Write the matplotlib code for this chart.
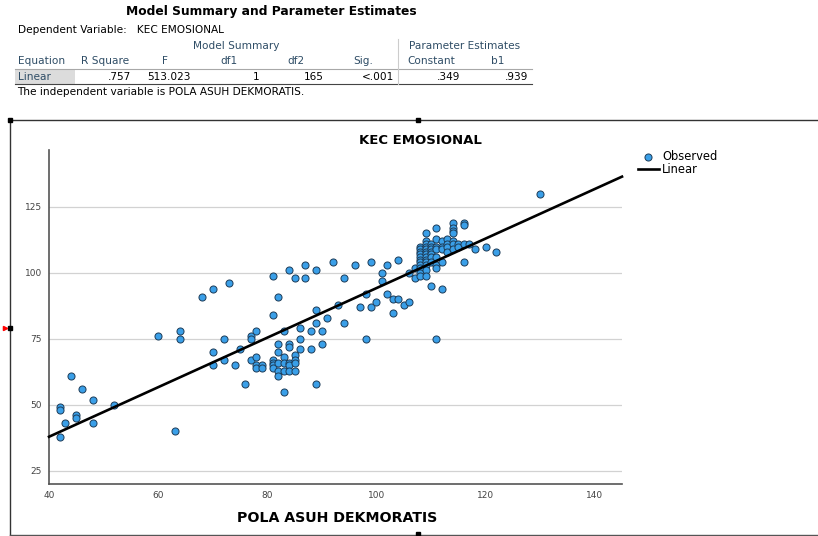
import numpy as np
import matplotlib.pyplot as plt
from matplotlib.lines import Line2D
from matplotlib.patches import Rectangle

# SPSS table values
col_headers = ['Equation', 'R Square', 'F', 'df1', 'df2', 'Sig.', 'Constant', 'b1']
row_values = ['Linear', '.757', '513.023', '1', '165', '<.001', '.349', '.939']
constant = 0.349
b1 = 0.939

# observed points (POLA ASUH DEKMORATIS, KEC EMOSIONAL)
pola_asuh = [42, 42, 44, 46, 48, 43, 45, 45, 48, 42, 52, 63,
             60, 64, 64, 68, 70, 70, 70, 72, 72, 73, 74, 75, 76, 77, 77, 77, 78, 78, 78, 78, 79, 79,
             81, 81, 81, 81, 81, 81, 82, 82, 82, 82, 82, 82, 83, 83, 83, 83, 83,
             84, 84, 84, 84, 84, 84, 85, 85, 85, 85, 85, 86, 86, 86, 87, 87, 88, 88,
             89, 89, 89, 89, 90, 90, 91, 92, 93, 94, 94, 96, 97, 98, 98, 99, 99, 100,
             101, 101, 102, 102, 103, 103, 104, 104, 105, 106, 106, 107, 107, 111, 130,
             108, 108, 108, 108, 108, 108, 108, 108, 108, 108, 108,
             109, 109, 109, 109, 109, 109, 109, 109, 109, 109, 109, 109, 109,
             110, 110, 110, 110, 110, 110, 110, 110,
             111, 111, 111, 111, 111, 111, 111,
             112, 112, 112, 112, 112,
             113, 113, 113, 113,
             114, 114, 114, 114, 114, 114, 114,
             115, 115, 116, 116, 116, 116, 117, 118, 120, 122]
kec_emosional = [49, 48, 61, 56, 52, 43, 46, 45, 43, 38, 50, 40,
                 76, 78, 75, 91, 94, 70, 65, 75, 67, 96, 65, 71, 58, 76, 75, 67, 78, 68, 65, 64, 65, 64,
                 99, 84, 67, 66, 65, 64, 91, 73, 70, 66, 63, 61, 78, 68, 66, 63, 55,
                 101, 73, 72, 66, 65, 63, 98, 69, 67, 66, 63, 79, 75, 71, 103, 98, 78, 71,
                 101, 86, 81, 58, 78, 73, 83, 104, 88, 98, 81, 103, 87, 92, 75, 104, 87, 89,
                 100, 97, 103, 92, 90, 85, 105, 90, 88, 100, 89, 102, 98, 75, 130,
                 110, 109, 108, 107, 106, 105, 104, 103, 102, 100, 99,
                 115, 112, 111, 110, 109, 108, 107, 106, 105, 104, 103, 101, 99,
                 111, 110, 109, 108, 107, 106, 104, 95,
                 117, 113, 110, 109, 106, 103, 102,
                 112, 110, 109, 104, 94,
                 113, 111, 110, 108,
                 119, 117, 116, 115, 112, 111, 109,
                 111, 110, 119, 118, 111, 104, 111, 109, 110, 108]

x_ticks = [40, 60, 80, 100, 120, 140]
y_ticks = [25, 50, 75, 100, 125]

W, H = 818, 536


def px(x, y):
    return x / W, 1 - y / H


hdr = '#2f4d66'
fs = 7.6
fig = plt.figure(figsize=(W / 100, H / 100), dpi=100)
plt.rcParams['font.family'] = 'DejaVu Sans'

# ---- table part ----
fig.text(*px(271, 12), 'Model Summary and Parameter Estimates', ha='center', va='center',
         fontsize=8.8, fontweight='bold')
fig.text(*px(18, 30), 'Dependent Variable:   KEC EMOSIONAL', ha='left', va='center', fontsize=fs)

edges = [15, 75, 135, 195, 263, 328, 398, 464, 532]
fig.text(*px((edges[1] + edges[6]) / 2, 46), 'Model Summary', ha='center', va='center',
         fontsize=fs, color=hdr)
fig.text(*px((edges[6] + edges[8]) / 2, 46), 'Parameter Estimates', ha='center', va='center',
         fontsize=fs, color=hdr)

fig.add_artist(Rectangle(px(edges[0], 84), (edges[1] - edges[0]) / W, 15 / H,
                         transform=fig.transFigure, facecolor='#dcdcdc', edgecolor='none'))
for i, (h, v) in enumerate(zip(col_headers, row_values)):
    if i == 0:
        fig.text(*px(edges[0] + 3, 61), h, ha='left', va='center', fontsize=fs, color=hdr)
        fig.text(*px(edges[0] + 3, 76.5), v, ha='left', va='center', fontsize=fs, color=hdr)
    else:
        fig.text(*px((edges[i] + edges[i + 1]) / 2, 61), h, ha='center', va='center',
                 fontsize=fs, color=hdr)
        fig.text(*px(edges[i + 1] - 4, 76.5), v, ha='right', va='center', fontsize=fs)

for yy, c in [(69, '#a8a8a8'), (84, '#444444')]:
    fig.add_artist(Line2D([edges[0] / W, edges[-1] / W], [1 - yy / H] * 2, color=c, lw=0.8,
                          transform=fig.transFigure))
fig.add_artist(Line2D([edges[6] / W] * 2, [1 - 39 / H, 1 - 84 / H], color='#cccccc', lw=0.8,
                      transform=fig.transFigure))
fig.text(*px(17, 92), 'The independent variable is POLA ASUH DEKMORATIS.', ha='left', va='center',
         fontsize=fs)

# ---- chart frame ----
fig.add_artist(Line2D([10 / W, 10 / W], [1 - 120 / H, 1 - 536 / H], color='#333333', lw=1,
                      transform=fig.transFigure))
fig.add_artist(Line2D([10 / W, 1], [1 - 120 / H] * 2, color='#333333', lw=1, transform=fig.transFigure))
fig.add_artist(Line2D([10 / W, 1], [1 - 534.5 / H] * 2, color='#555555', lw=1, transform=fig.transFigure))
fig.add_artist(Line2D([10 / W, 418 / W, 10 / W, 418 / W], [1 - 120 / H, 1 - 120 / H, 1 - 328 / H, 1 - 534 / H],
                      marker='s', ms=3, color='black', linestyle='none', transform=fig.transFigure))
fig.add_artist(Line2D([5 / W], [1 - 328 / H], marker='>', ms=3, color='red', linestyle='none',
                      transform=fig.transFigure))

# ---- scatter ----
ax = fig.add_axes([49 / W, 1 - 484 / H, (622 - 49) / W, (484 - 150) / H])
ax.set_xlim(40, 145)
ax.set_ylim(20, 146.6)
ax.set_xticks(x_ticks)
ax.set_yticks(y_ticks)
ax.grid(axis='y', color='#d2d2d2', lw=0.9)
ax.set_axisbelow(True)
for s in ['top', 'right']:
    ax.spines[s].set_visible(False)
for s in ['left', 'bottom']:
    ax.spines[s].set_color('#555555')
    ax.spines[s].set_linewidth(1.2)
ax.tick_params(length=0, labelsize=6.5, labelcolor='#444444')
ax.tick_params(axis='y', pad=5)
ax.tick_params(axis='x', pad=5)

ax.scatter(pola_asuh, kec_emosional, s=26, c='#3a9fe8', edgecolors='#1d3c58', linewidths=0.7,
           label='Observed', zorder=3)
line_x = np.array(ax.get_xlim())
ax.plot(line_x, constant + b1 * line_x, color='black', lw=1.9, label='Linear', zorder=4,
        clip_on=False)

fig.text(*px(420, 140), 'KEC EMOSIONAL', ha='center', va='center', fontsize=9.5, fontweight='bold')
fig.text(*px(337, 518), 'POLA ASUH DEKMORATIS', ha='center', va='center', fontsize=10.2,
         fontweight='bold')

ax.legend(loc='upper left', bbox_to_anchor=px(638, 150), bbox_transform=fig.transFigure,
          frameon=False, fontsize=8.3, handlelength=1.8, handletextpad=0.3, labelspacing=0.0,
          borderpad=0, borderaxespad=0)

fig.savefig('out.png', dpi=100)
